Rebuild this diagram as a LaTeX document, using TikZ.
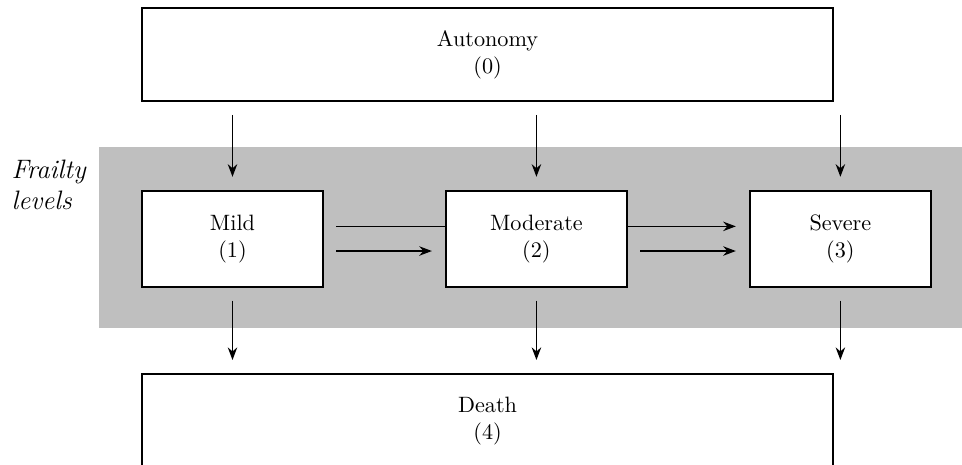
\documentclass[tikz,border=0pt]{standalone}
\usepackage{amsmath}
\usepackage{xcolor}
\usepackage{tikz}
\usetikzlibrary{arrows.meta, positioning, calc, backgrounds}

\begin{document}
\begin{tikzpicture}[
        lvl/.style={rectangle, draw=black, thick, fill=white, align=center, minimum width=2.86cm, minimum height=1.52cm},
        wide/.style={rectangle, draw=black, thick, fill=white, align=center, minimum width=10.93cm, minimum height=1.48cm},
        move/.style={-{Stealth[length=2mm, width=1.5mm]}, semithick, shorten <=0.2cm, shorten >=0.21cm},
    ]
        \useasboundingbox (-3.678,3.781) rectangle (11.54,-3.560);
        \node[lvl] (mild) at (0,0) {Mild\\(1)};
        \node[lvl, right=1.92cm of mild] (mod) {Moderate\\(2)};
        \node[lvl, right=1.92cm of mod] (sev) {Severe\\(3)};
        \node[wide, above right=1.39cm and 0cm of mild.north west] (auto) {Autonomy\\(0)};
        \node[wide, below right=1.35cm and 0cm of mild.south west] (death) {Death\\(4)};
        \node[font=\large\itshape, align=left, anchor=west, inner sep=0pt] (fl) at (-3.50,0.85) {Frailty\\levels};
        % entering and leaving the levels
        \foreach \n in {mild, mod, sev} {
            \draw[move] (auto.south -| \n) -- (\n);
            \draw[move] (\n) -- (death.north -| \n);
        }
        \draw[move] ($(mild.east)+(0,-0.19)$) -- ($(mod.west)+(0,-0.19)$);
        \draw[move] ($(mod.east)+(0,-0.19)$) -- ($(sev.west)+(0,-0.19)$);
        \begin{scope}[on background layer]
            \fill[gray!50] (-2.11,1.455) rectangle (11.6,-1.41);
            \draw[move] ($(mild.east)+(0,0.2)$) -- ($(sev.west)+(0,0.2)$);
        \end{scope}
    \end{tikzpicture}
\end{document}
